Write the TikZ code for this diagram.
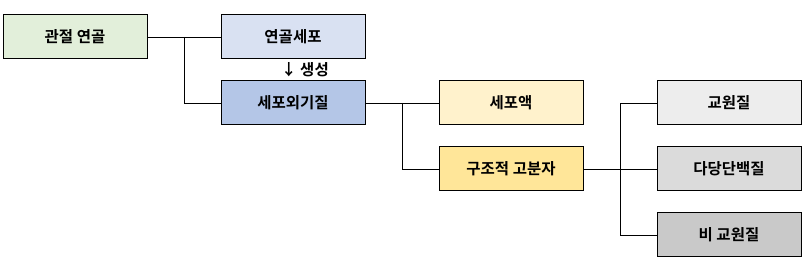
\documentclass[tikz,border=0pt]{standalone}
\usepackage{fontspec}
\setmainfont{Noto Sans CJK KR}[BoldFont={* Bold}]
\begin{document}
\begin{tikzpicture}[x=1pt,y=-1pt,
  box/.style={draw=black, line width=1pt, minimum width=144pt, minimum height=44pt, inner sep=0pt, outer sep=0pt, font=\bfseries\fontsize{15.5}{17}\selectfont, anchor=north west},
  conn/.style={draw=black, line width=0.9pt}]
\useasboundingbox (0,0) rectangle (808,272);
\definecolor{cA}{HTML}{E2EFDA}
\definecolor{cB}{HTML}{D9E1F2}
\definecolor{cC}{HTML}{B4C6E7}
\definecolor{cD}{HTML}{FFF2CC}
\definecolor{cE}{HTML}{FFE699}
\definecolor{cF}{HTML}{EDEDED}
\definecolor{cG}{HTML}{DBDBDB}
\definecolor{cH}{HTML}{C9C9C9}
\node[box, fill=cA] (joint) at (3,15) {관절 연골};
\node[box, fill=cB] (cell) at (221,15) {연골세포};
\node[box, fill=cC] (ecm) at (221,81) {세포외기질};
\node[box, fill=cD] (cyto) at (439,81) {세포액};
\node[box, fill=cE] (poly) at (439,147) {구조적 고분자};
\node[box, fill=cF] (coll) at (657,81) {교원질};
\node[box, fill=cG] (prot) at (657,147) {다당단백질};
\node[box, fill=cH] (ncoll) at (657,213) {비 교원질};
\node[font=\bfseries\fontsize{15.5}{17}\selectfont, inner sep=0pt] (gen) at (305,70) {↓ 생성};
\coordinate (j1) at (184,37);
\coordinate (j2) at (402,103);
\coordinate (j3) at (620,169);
\draw[conn] (joint.east) -- (cell.west);
\draw[conn] (j1) |- (ecm.west);
\draw[conn] (ecm.east) -- (cyto.west);
\draw[conn] (j2) |- (poly.west);
\draw[conn] (poly.east) -- (prot.west);
\draw[conn] (j3) |- (coll.west);
\draw[conn] (j3) |- (ncoll.west);
\end{tikzpicture}
\end{document}
